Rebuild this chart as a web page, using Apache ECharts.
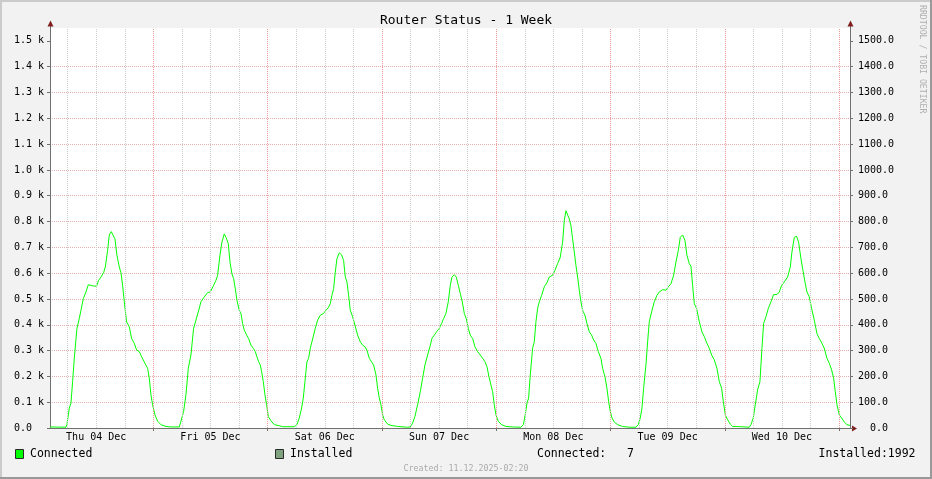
<!DOCTYPE html>
<html><head><meta charset="utf-8">
<script src="https://cdn.jsdelivr.net/npm/echarts@6/dist/echarts.min.js"></script>
<style>html,body{margin:0;padding:0;background:#f2f2f2}#c{width:932px;height:479px}</style>
</head><body><div id="c"></div>
<script>
const titleText = 'Router Status - 1 Week';
// x values are hours since Thu 04 Dec 00:00
const startHour = 2.3;
const endHour = 170.3;
const dayLabels = ['Thu 04 Dec','Fri 05 Dec','Sat 06 Dec','Sun 07 Dec','Mon 08 Dec','Tue 09 Dec','Wed 10 Dec'];
const dayLabelHours = [12,36,60,84,108,132,156];
const majorGridHours = [24,48,72,96,120,144,168];
const minorGridHours = [6,12,18,30,36,42,54,60,66,78,84,90,102,108,114,126,132,138,150,156,162];
const yTicks = [0,100,200,300,400,500,600,700,800,900,1000,1100,1200,1300,1400,1500];
const yMax = 1550;

const connectedHours = [
2.3,5.65,5.86,6.35,6.7,7.05,7.4,7.96,8.45,8.8,9.29,9.85,10.34,10.9,11.46,12.09,12.51,13.0,13.56,13.91,14.4,14.75,15.17,15.52,15.94,16.36,16.85,17.2,17.55,17.9,18.39,18.95,19.44,20.0,20.49,21.05,21.54,22.24,22.8,23.15,23.5,23.85,24.34,24.9,25.6,26.65,27.7,29.45,29.8,30.36,30.85,31.34,31.9,32.46,32.95,33.44,34.0,34.7,35.4,35.96,
36.1,36.66,37.15,37.5,37.99,38.4,38.9,39.25,39.74,40.1,40.5,40.86,41.21,41.56,42.05,42.4,42.75,43.1,43.59,44.0,44.5,44.99,45.41,45.76,46.1,46.46,46.74,47.09,47.44,47.79,48.14,48.7,49.4,50.45,51.15,53.6,54.16,54.65,55.14,55.49,55.84,56.26,56.61,56.96,57.31,57.66,58.0,58.5,59.06,59.76,60.25,60.74,61.16,61.51,61.86,62.21,62.56,63.05,63.54,63.96,64.31,64.66,65.01,65.36,65.85,66.34,66.9,67.46,67.95,68.44,68.86,69.35,
69.7,70.26,70.75,71.1,71.45,71.8,72.15,72.5,73.2,73.9,75.3,77.4,77.96,78.45,78.94,79.5,80.06,80.55,81.04,81.6,82.09,82.51,83.0,83.49,84.05,84.54,84.96,85.45,85.94,86.36,86.71,87.2,87.62,88.04,88.46,88.88,89.3,89.72,90.14,90.56,91.05,91.54,92.1,92.66,93.15,93.64,94.06,94.48,94.9,95.25,95.6,95.95,96.44,97.14,98.05,99.45,101.2,101.7,102.1,102.46,102.81,103.16,103.3,
103.65,104.0,104.35,104.7,105.05,105.54,106.1,106.66,107.15,107.85,108.34,108.9,109.46,109.95,110.3,110.65,111.0,111.35,111.7,112.05,112.4,112.75,113.1,113.45,113.8,114.15,114.64,115.06,115.55,116.04,116.46,116.95,117.44,118.0,118.35,118.84,119.26,119.61,119.96,120.31,120.8,121.5,122.55,123.95,125.35,125.84,126.26,126.61,126.96,127.45,127.8,128.15,128.64,129.2,129.76,130.25,130.95,131.65,132.14,132.7,133.26,133.75,134.24,134.66,135.15,135.64,136.06,136.55,136.9,
137.25,137.6,138.09,138.65,139.21,139.7,140.26,140.75,141.24,141.8,142.36,142.85,143.34,143.69,144.11,144.6,145.16,145.65,147.4,149.15,149.5,149.99,150.41,150.9,151.39,151.81,152.16,152.65,153.14,153.7,154.26,154.96,155.45,155.94,156.5,157.2,157.76,158.11,158.6,159.09,159.51,160.0,160.42,160.84,161.26,161.75,162.24,162.8,163.36,163.85,164.41,164.9,165.46,165.95,166.44,166.86,167.21,167.56,168.05,168.54,169.1,169.66,170.3
];
const connectedValues = [
4,3,13,77,96,180,270,386,424,456,501,527,555,553,550,550,572,585,602,624,688,748,761,748,733,669,624,602,553,489,411,392,347,328,302,296,276,251,231,193,129,90,51,26,13,6,4,4,26,64,129,231,283,386,418,450,489,508,525,527,
527,553,572,592,669,720,752,739,714,643,598,579,540,495,456,444,405,379,360,347,321,309,296,276,257,244,219,180,129,90,45,28,13,9,5,5,13,39,77,116,180,257,270,309,334,360,386,418,437,444,456,466,482,514,540,604,656,679,671,649,585,566,514,456,431,399,360,334,321,315,302,270,
264,244,206,154,116,90,51,32,15,10,6,3,4,19,45,90,141,193,244,283,315,347,360,373,386,405,424,444,489,553,585,594,585,553,521,489,444,424,386,360,347,315,296,283,270,257,238,199,167,141,90,51,26,13,6,4,3,13,51,96,116,206,205,
309,334,412,463,489,514,547,563,585,592,611,637,662,720,804,842,849,810,784,733,682,630,585,534,489,456,437,405,373,360,341,328,296,270,231,199,154,103,64,39,23,13,6,3,3,13,39,77,154,244,334,412,450,489,514,527,536,534,547,559,592,643,688,739,748,727,669,637,627,
553,482,463,412,373,354,328,309,283,264,231,180,154,103,51,32,15,6,5,3,13,39,90,148,180,309,405,431,463,489,517,517,527,553,566,585,624,682,739,743,720,656,611,566,527,508,463,418,366,347,328,309,270,251,225,193,141,90,51,39,23,13,10
];
const connectedLast = 7;
const installedLast = 1992;
const createdText = 'Created: 11.12.2025-02:20';
const sideText = 'RRDTOOL / TOBI OETIKER';

const mono = "'DejaVu Sans Mono', monospace";
const axisColor = '#707070';
const arrowColor = '#7f1f1f';
const G = {left:50, top:28, width:800, height:400};

function pad(s, w){ s = String(s); while (s.length < w) s = ' ' + s; return s; }
function fmtLeft(v){ if (v % 100 !== 0) return ''; return v === 0 ? '0.0' : (v/1000).toFixed(1) + ' k'; }
function fmtRight(v){ if (v % 100 !== 0) return ''; return pad(v.toFixed(1), 5); }

const chart = echarts.init(document.getElementById('c'), null, {renderer:'canvas'});
const R = G.left + G.width, B = G.top + G.height;
const option = {
  animation:false,
  backgroundColor:'#f2f2f2',
  title:{text:titleText, left:'center', top:9, textStyle:{fontFamily:mono, fontSize:13, fontWeight:'normal', color:'#000'}},
  grid:{left:G.left, top:G.top, width:G.width, height:G.height, show:true, backgroundColor:'#ffffff', borderWidth:0},
  xAxis:{type:'value', min:startHour, max:endHour,
    axisLine:{show:true, lineStyle:{color:axisColor, width:1}},
    axisTick:{show:true, length:3, customValues:majorGridHours, lineStyle:{color:axisColor}},
    axisLabel:{customValues:dayLabelHours, formatter:v => { const i = dayLabelHours.indexOf(v); return i >= 0 ? dayLabels[i] : ''; },
      fontFamily:mono, fontSize:10, color:'#000', margin:4},
    splitLine:{show:false}},
  yAxis:[
    {type:'value', min:0, max:yMax, interval:100, position:'left',
     axisLine:{show:true, lineStyle:{color:axisColor}},
     axisTick:{show:true, length:3, customValues:yTicks, lineStyle:{color:axisColor}},
     axisLabel:{customValues:yTicks, formatter:fmtLeft, fontFamily:mono, fontSize:10, color:'#000', margin:36, align:'left', padding:[5,0,0,0]},
     splitLine:{show:true, showMinLine:false, showMaxLine:false, lineStyle:{color:'#e6adad', type:[1,1], width:1}}},
    {type:'value', min:0, max:yMax, interval:100, position:'right',
     axisLine:{show:true, lineStyle:{color:axisColor}},
     axisTick:{show:true, length:3, customValues:yTicks, lineStyle:{color:axisColor}},
     axisLabel:{customValues:yTicks, formatter:fmtRight, fontFamily:mono, fontSize:10, color:'#000', margin:8, align:'left', padding:[5,0,0,0]},
     splitLine:{show:false}}
  ],
  series:[
    {type:'line', data:[], silent:true, z:1,
     markLine:{silent:true, symbol:['none','none'], animation:false, label:{show:false},
       data:[].concat(
         minorGridHours.map(h => ({xAxis:h, lineStyle:{color:'#cfcfcf', type:[1,1], width:1}})),
         majorGridHours.map(h => ({xAxis:h, lineStyle:{color:'#eb9a9a', type:[1,1], width:1}}))
       ),
       emphasis:{disabled:true}}},
    {name:'Connected', type:'line', z:3, showSymbol:false, silent:true,
     data:connectedHours.map((h,i) => [h, connectedValues[i]]),
     lineStyle:{color:'#00ff00', width:1}, itemStyle:{color:'#00ff00'}}
  ],
  graphic:[
    {type:'rect', shape:{x:0,y:0,width:932,height:2}, style:{fill:'#cbcbcb'}, silent:true},
    {type:'rect', shape:{x:0,y:0,width:2,height:479}, style:{fill:'#cbcbcb'}, silent:true},
    {type:'rect', shape:{x:0,y:477,width:932,height:2}, style:{fill:'#999999'}, silent:true},
    {type:'rect', shape:{x:930,y:0,width:2,height:479}, style:{fill:'#999999'}, silent:true},
    {type:'line', shape:{x1:G.left+0.5,y1:G.top-3,x2:G.left+0.5,y2:G.top}, style:{stroke:axisColor,lineWidth:1}, silent:true},
    {type:'line', shape:{x1:R+0.5,y1:G.top-3,x2:R+0.5,y2:G.top}, style:{stroke:axisColor,lineWidth:1}, silent:true},
    {type:'line', shape:{x1:R,y1:B+0.5,x2:R+3,y2:B+0.5}, style:{stroke:axisColor,lineWidth:1}, silent:true},
    {type:'polygon', shape:{points:[[G.left-2.5,G.top-1.5],[G.left+3.5,G.top-1.5],[G.left+0.5,G.top-7.5]]}, style:{fill:arrowColor}, silent:true},
    {type:'polygon', shape:{points:[[R-2.5,G.top-1.5],[R+3.5,G.top-1.5],[R+0.5,G.top-7.5]]}, style:{fill:arrowColor}, silent:true},
    {type:'polygon', shape:{points:[[R+2,B-2.5],[R+2,B+3.5],[R+7,B+0.5]]}, style:{fill:arrowColor}, silent:true},
    {type:'rect', shape:{x:15.5,y:449.5,width:8,height:9}, style:{fill:'#00ff00',stroke:'#2a2a2a',lineWidth:1}, silent:true},
    {type:'text', x:30, y:454, style:{text:'Connected', font:"11.5px 'DejaVu Sans Mono', monospace", fill:'#000', align:'left', verticalAlign:'middle'}, silent:true},
    {type:'rect', shape:{x:275.5,y:449.5,width:8,height:9}, style:{fill:'#7fa37f',stroke:'#2a2a2a',lineWidth:1}, silent:true},
    {type:'text', x:290, y:454, style:{text:'Installed', font:"11.5px 'DejaVu Sans Mono', monospace", fill:'#000', align:'left', verticalAlign:'middle'}, silent:true},
    {type:'text', x:537, y:454, style:{text:'Connected:' + pad(connectedLast,4), font:"11.5px 'DejaVu Sans Mono', monospace", fill:'#000', align:'left', verticalAlign:'middle'}, silent:true},
    {type:'text', x:915.5, y:454, style:{text:'Installed:' + pad(installedLast,4), font:"11.5px 'DejaVu Sans Mono', monospace", fill:'#000', align:'right', verticalAlign:'middle'}, silent:true},
    {type:'text', x:466, y:468.5, style:{text:createdText, font:"8.3px 'DejaVu Sans Mono', monospace", fill:'#aaaaaa', align:'center', verticalAlign:'middle'}, silent:true},
    {type:'text', x:922, y:5, rotation:-Math.PI/2, style:{text:sideText, font:"8.2px 'DejaVu Sans Mono', monospace", fill:'#b0b0b0', align:'left', verticalAlign:'middle'}, silent:true}
  ]
};
chart.setOption(option);
</script>
</body></html>
